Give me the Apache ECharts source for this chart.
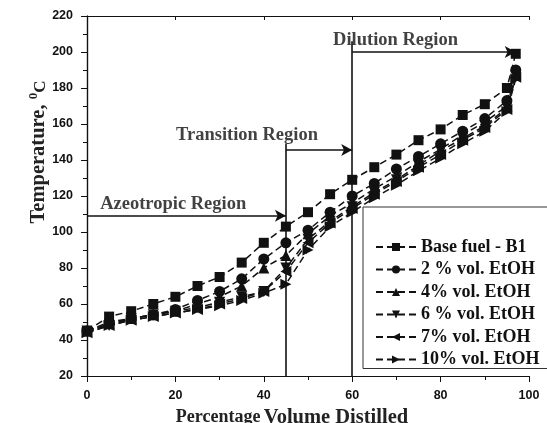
<!DOCTYPE html>
<html><head><meta charset="utf-8">
<script src="https://cdn.jsdelivr.net/npm/echarts@6/dist/echarts.min.js"></script>
<style>html,body{margin:0;padding:0;background:#fff}#c{width:547px;height:423px}</style>
</head><body><div id="c"></div>
<script>
var volume = [0,5,10,15,20,25,30,35,40,45,50,55,60,65,70,75,80,85,90,95,97];
var baseFuel = [45,53,56,60,64,70,75,83,94,103,111,121,129,136,143,151,157,165,171,180,199];
var etoh2 = [45,50,52,54,57,62,67,74,85,94,101,111,120,127,135,142,149,156,163,173,190];
var etoh4 = [45,49,52,54,56,60,64,70,80,87,99,109,116,124,131,139,146,154,161,170,188];
var etoh6 = [45,48,52,54,56,58,61,64,67,80,96,106,114,122,129,137,145,152,159,169,187];
var etoh7 = [44,48,51,53,55,57,60,63,67,78,94,105,113,121,128,136,143,151,158,168,186];
var etoh10 = [44,48,51,53,55,57,59,62,66,71,90,103,111,119,126,134,141,149,156,167,185];
var seriesNames = ['Base fuel - B1','2 % vol. EtOH','4% vol. EtOH','6 % vol. EtOH','7% vol. EtOH','10% vol. EtOH'];
var regionNames = ['Azeotropic Region','Transition Region','Dilution Region'];
var regionLabelPos = [[19.5,115.5],[36.2,154],[69.8,206.5]];

var symbols = ['rect','circle','triangle',
  'path://M0,0 L10,0 L5,10 Z',
  'path://M10,0 L10,10 L0,5 Z',
  'path://M0,0 L10,5 L0,10 Z'];
var sizes = [10,11,11,11,11,11];
var allData = [baseFuel,etoh2,etoh4,etoh6,etoh7,etoh10];
var serif = '"Liberation Serif","Times New Roman",serif';
var sans = '"Liberation Sans",Arial,sans-serif';

var series = allData.map(function(d,i){
  return {
    name: seriesNames[i], type:'line',
    data: volume.map(function(x,j){return [x,d[j]];}),
    symbol: symbols[i], symbolSize: sizes[i],
    itemStyle:{color:'#111'},
    lineStyle:{color:'#111', width:1.5, type:[7,4]},
    silent:true, z: 3+i
  };
});
var arrowStyle = {color:'#111', width:1.6, type:'solid'};
series.push({
  name:'notes', type:'scatter', symbolSize:0, silent:true,
  data: regionLabelPos.map(function(p,i){return {value:p, name:regionNames[i]};}),
  label:{show:true, position:'inside', formatter:function(p){return p.name;},
    fontFamily:serif, fontWeight:'bold', fontSize:18.5, color:'#111'},
  markLine:{silent:true, symbol:['none','arrow'], symbolSize:[9,11], animation:false,
    label:{show:false}, lineStyle:arrowStyle,
    data:[
      [{coord:[0,109]},{coord:[45,109]}],
      [{coord:[45,145.5]},{coord:[60,145.5]}],
      [{coord:[60,200]},{coord:[97,200]}],
      [{coord:[45,149],symbol:'none'},{coord:[45,20],symbol:'none'}],
      [{coord:[60,206],symbol:'none'},{coord:[60,20],symbol:'none'}]
    ]}
});

var chart = echarts.init(document.getElementById('c'));
chart.setOption({
  animation:false,
  backgroundColor:'#fff',
  grid:{left:87,right:18,top:16,bottom:47, outerBoundsMode:'none', containLabel:false},
  legend:{
    data: seriesNames, orient:'vertical', left:363, top:207,
    padding:[31,8,0,12], itemGap:4.5, itemWidth:40, itemHeight:10,
    backgroundColor:'#fff', borderColor:'#333', borderWidth:1,
    textStyle:{fontFamily:serif, fontWeight:'bold', fontSize:18, color:'#111'}
  },
  xAxis:[{
    type:'value', min:0, max:100, interval:20,
    name:'{a|Percentage} {b|Volume Distilled}', nameLocation:'middle', nameGap:31,
    nameTextStyle:{padding:[0,32,0,0], rich:{
      a:{fontFamily:serif, fontWeight:'bold', fontSize:18, color:'#222'},
      b:{fontFamily:serif, fontWeight:'bold', fontSize:20.5, color:'#222'}}},
    axisLine:{lineStyle:{color:'#111',width:1.2}},
    axisTick:{show:true, length:6, lineStyle:{color:'#111'}},
    minorTick:{show:true, splitNumber:2, length:4, lineStyle:{color:'#111'}},
    axisLabel:{margin:13, fontFamily:sans, fontWeight:'bold', fontSize:12.5, color:'#111'},
    splitLine:{show:false}
  },{
    type:'value', min:0, max:100, interval:20, position:'top',
    axisLine:{lineStyle:{color:'#111',width:1.2}},
    axisTick:{show:true, inside:true, length:4, lineStyle:{color:'#111'}},
    minorTick:{show:false},
    axisLabel:{show:false}, splitLine:{show:false}
  }],
  yAxis:[{
    type:'value', min:20, max:220, interval:20,
    name:'{a|Temperature, }{s|0}{c|C}', nameLocation:'middle', nameGap:38, nameRotate:90,
    nameMoveOverlap:false,
    nameTextStyle:{padding:[0,0,0,88], rich:{
      a:{fontFamily:serif, fontWeight:'bold', fontSize:20.5, color:'#222', lineHeight:22, verticalAlign:'bottom'},
      s:{fontFamily:serif, fontWeight:'bold', fontSize:13, color:'#222', lineHeight:22, verticalAlign:'top'},
      c:{fontFamily:serif, fontWeight:'bold', fontSize:17, color:'#222', lineHeight:22, verticalAlign:'bottom'}}},
    axisLine:{show:true, lineStyle:{color:'#111',width:1.2}},
    axisTick:{show:true, length:6, lineStyle:{color:'#111'}},
    minorTick:{show:true, splitNumber:2, length:4, lineStyle:{color:'#111'}},
    axisLabel:{margin:14, fontFamily:sans, fontWeight:'bold', fontSize:12.5, color:'#111'},
    splitLine:{show:false}
  },{
    type:'value', min:20, max:220, interval:20, position:'right',
    axisLine:{show:true, lineStyle:{color:'#111',width:1.2}},
    axisTick:{show:true, inside:true, length:4, lineStyle:{color:'#111'}},
    axisLabel:{show:false}, splitLine:{show:false}
  }],
  series: series
});
</script></body></html>
